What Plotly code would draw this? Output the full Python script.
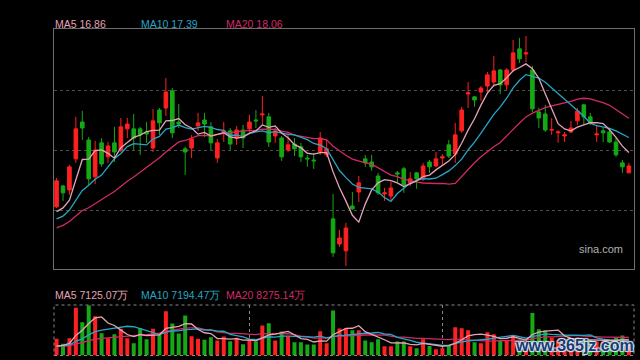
import plotly.graph_objects as go

# ---------------- data ----------------
days = list(range(90))

open_ = [14.96, 15.69, 15.55, 16.64, 17.93, 17.30, 16.01, 17.20, 16.71, 17.20,
         16.95, 17.69, 17.69, 17.69, 17.58, 17.02, 18.35, 18.42, 19.02, 17.93,
         16.99, 17.02, 17.79, 18.00, 17.76, 16.67, 17.55, 17.62, 17.37, 17.65,
         17.69, 18.00, 18.18, 18.11, 17.44, 17.37, 16.95, 17.16, 17.06, 16.67,
         16.60, 16.88, 16.78, 14.54, 13.66, 13.42, 14.99, 15.48, 16.64, 16.53,
         16.04, 15.41, 15.34, 16.15, 16.29, 15.80, 16.15, 15.94, 16.53, 16.39,
         16.67, 17.13, 16.81, 17.62, 18.91, 18.81, 18.98, 19.19, 19.33, 19.75,
         19.23, 19.75, 20.49, 20.31, 19.75, 18.28, 18.21, 17.65, 17.55, 17.44,
         17.58, 17.97, 18.53, 18.11, 17.48, 17.62, 17.58, 17.23, 16.50, 16.15]

high = [15.97, 15.73, 16.43, 18.11, 18.32, 17.41, 17.27, 17.37, 17.23, 17.76,
        18.07, 18.07, 18.21, 17.76, 17.93, 18.39, 18.42, 19.47, 19.12, 18.56,
        17.06, 17.48, 18.25, 18.25, 17.93, 17.34, 17.93, 17.72, 17.79, 17.83,
        18.18, 18.35, 18.84, 18.25, 17.72, 17.44, 17.55, 17.37, 17.20, 16.78,
        16.85, 17.58, 17.30, 15.41, 14.15, 14.40, 15.48, 16.04, 16.78, 16.78,
        16.15, 15.62, 15.83, 16.22, 16.36, 16.18, 16.18, 16.50, 16.60, 16.88,
        16.81, 17.30, 17.90, 18.46, 19.33, 18.84, 19.19, 19.68, 20.24, 19.79,
        19.82, 20.80, 20.87, 20.94, 19.89, 18.42, 18.53, 18.07, 17.65, 17.58,
        17.97, 18.42, 18.56, 18.25, 17.83, 17.72, 17.72, 17.41, 16.60, 16.50]

low = [14.92, 15.17, 15.38, 16.50, 17.30, 15.73, 15.76, 16.36, 16.50, 16.53,
       16.88, 17.37, 16.95, 16.78, 17.20, 16.88, 17.48, 18.14, 17.37, 17.72,
       16.08, 16.67, 17.62, 17.41, 16.95, 16.50, 17.23, 16.95, 17.13, 17.02,
       17.58, 17.72, 17.83, 17.06, 17.20, 16.57, 16.88, 16.74, 16.53, 16.36,
       16.29, 16.78, 16.71, 13.21, 13.56, 12.89, 14.85, 15.13, 16.36, 16.22,
       15.38, 15.17, 15.20, 15.83, 15.45, 15.69, 15.59, 15.87, 16.15, 16.36,
       16.43, 16.67, 16.50, 17.55, 18.42, 18.46, 18.67, 18.98, 19.16, 18.91,
       19.05, 19.68, 20.00, 20.03, 18.28, 17.72, 17.58, 17.48, 17.20, 17.23,
       17.55, 17.83, 17.83, 17.83, 17.23, 17.23, 17.20, 16.71, 16.15, 16.15]

close = [15.87, 15.45, 16.36, 17.69, 17.72, 15.94, 16.95, 16.46, 17.09, 16.88,
         17.76, 17.86, 17.37, 17.48, 17.51, 17.97, 17.90, 18.98, 17.55, 17.86,
         16.88, 17.34, 17.90, 17.86, 17.20, 17.20, 17.62, 17.16, 17.65, 17.37,
         17.93, 17.97, 18.21, 17.23, 17.62, 16.71, 17.13, 16.99, 16.71, 16.64,
         16.57, 17.37, 16.99, 13.35, 13.87, 14.22, 14.89, 15.80, 16.50, 16.36,
         15.45, 15.45, 15.62, 16.11, 15.73, 15.94, 15.94, 16.39, 16.36, 16.64,
         16.71, 16.74, 17.48, 18.35, 18.95, 18.70, 19.12, 19.58, 19.72, 19.23,
         19.75, 20.35, 20.14, 20.35, 18.39, 18.07, 17.65, 17.66, 17.58, 17.48,
         17.72, 18.31, 18.11, 17.90, 17.51, 17.55, 17.23, 16.78, 16.36, 16.39]

# volume in 万 (10k shares)
volume = [7680, 5380, 7960, 21940, 15320, 23000, 18080, 10260, 7960, 9800,
          12280, 7960, 5660, 12560, 7500, 12280, 9660, 20380, 14720, 10120,
          18400, 8880, 7680, 7220, 8420, 6900, 8740, 6580, 8140, 5200,
          7130, 6440, 13800, 14860, 6900, 11040, 8740, 6120, 6120, 5060,
          5060, 11180, 5660, 20700, 12420, 12280, 11590, 11590, 6900, 6120,
          7450, 4230, 4230, 6440, 6440, 4230, 3310, 7450, 4370, 2850,
          3310, 4600, 13020, 12560, 11590, 6120, 5660, 10720, 9750, 6760,
          6808, 9062, 7360, 5520, 19550, 12098, 11540.1, 8280, 6900, 6440,
          6440, 8280, 7820, 7360, 6419.35, 5980, 6440, 8280, 9200, 5725.35]

# the 19 sessions before the first visible one (needed for moving averages)
prev_close = [13.6, 13.7, 13.8, 13.9, 14.0, 13.9, 14.0, 14.0, 14.1, 14.0,
              14.5, 14.3, 14.2, 14.3, 14.15,
              14.8, 15.0, 14.2, 14.1]
prev_volume = [3800, 4000, 3900, 3700, 4100, 3900, 4000, 3800, 3900, 4000,
               4500, 4400, 4600, 4300, 4510,
               3500, 3300, 3600, 3308]

month_marks = [30, 60]

# ---------------- helpers ----------------
def moving_avg(prev, vals, n):
    full = prev + vals
    off = len(prev)
    out = []
    for i in range(len(vals)):
        w = full[off + i - n + 1: off + i + 1]
        out.append(sum(w) / n)
    return out

ma5 = moving_avg(prev_close, close, 5)
ma10 = moving_avg(prev_close, close, 10)
ma20 = moving_avg(prev_close, close, 20)
vma5 = moving_avg(prev_volume, volume, 5)
vma10 = moving_avg(prev_volume, volume, 10)
vma20 = moving_avg(prev_volume, volume, 20)

RED = "#ff2020"
GREEN = "#15a915"
C5 = "#e6a3b6"
C10 = "#27a6c6"
C20 = "#d22a66"
FONT = "Liberation Sans, Arial, sans-serif"
W, H = 640, 360

fig = go.Figure()

fig.add_trace(go.Candlestick(
    x=days, open=open_, high=high, low=low, close=close,
    increasing=dict(line=dict(color=RED, width=1), fillcolor=RED),
    decreasing=dict(line=dict(color=GREEN, width=1), fillcolor=GREEN),
    whiskerwidth=0, hoverinfo="skip", xaxis="x", yaxis="y"))

for ser, col in [(ma20, C20), (ma10, C10), (ma5, C5)]:
    fig.add_trace(go.Scatter(x=days, y=ser, mode="lines",
                             line=dict(color=col, width=1.3),
                             hoverinfo="skip", xaxis="x", yaxis="y"))

vol_colors = [RED if c > o else GREEN for o, c in zip(open_, close)]
fig.add_trace(go.Bar(x=days, y=volume, marker=dict(color=vol_colors, line=dict(width=0)),
                     width=0.62, hoverinfo="skip", xaxis="x2", yaxis="y2"))
for ser, col in [(vma20, C20), (vma10, C10), (vma5, C5)]:
    fig.add_trace(go.Scatter(x=days, y=ser, mode="lines",
                             line=dict(color=col, width=1.3),
                             hoverinfo="skip", xaxis="x2", yaxis="y2"))

xdom = [54 / W, 634 / W]
xr = [-0.4, 89.8]

fig.update_layout(
    width=W, height=H,
    paper_bgcolor="black", plot_bgcolor="black",
    margin=dict(l=0, r=0, t=0, b=0),
    showlegend=False,
    boxgap=0.2,
    xaxis=dict(domain=xdom, range=xr, anchor="y", showgrid=False, showticklabels=False,
               ticks="", zeroline=False, showline=True, mirror=True,
               linecolor="#6e6e6e", linewidth=1, rangeslider=dict(visible=False)),
    yaxis=dict(domain=[1 - 269 / H, 1 - 29 / H], range=[12.785, 21.185],
               tickvals=[14.85, 16.95, 19.05], showticklabels=False, ticks="",
               showgrid=True, gridcolor="#4d4d4d", griddash="dot", gridwidth=1,
               zeroline=False, showline=True, mirror=True, linecolor="#6e6e6e", linewidth=1),
    xaxis2=dict(domain=xdom, range=xr, anchor="y2", showticklabels=False, ticks="",
                tickvals=month_marks, showgrid=True, gridcolor="#8a8a8a", griddash="dot",
                zeroline=False, showline=False),
    yaxis2=dict(domain=[1 - 355.5 / H, 1 - 305 / H], range=[0, 23230],
                showgrid=False, showticklabels=False, ticks="", zeroline=False, showline=False),
)

fig.add_shape(type="rect", xref="x2 domain", yref="y2 domain", x0=0, x1=1, y0=0, y1=1,
              line=dict(color="#8a8a8a", width=1, dash="dot"))

def label(txt, px, py, col, size=10.5, anchor="left", weight="normal", shadow="none"):
    fig.add_annotation(text=txt, x=px / W, y=1 - py / H, xref="paper", yref="paper",
                       xanchor=anchor, yanchor="middle", showarrow=False,
                       font=dict(family=FONT, size=size, color=col, weight=weight, shadow=shadow))

label(f"MA5 {ma5[-1]:.2f}", 53, 24, C5)
label(f"MA10 {ma10[-1]:.2f}", 139, 24, C10)
label(f"MA20 {ma20[-1]:.2f}", 224, 24, C20)
label(f"MA5 {vma5[-1]:.2f}万", 53, 295, C5)
label(f"MA10 {vma10[-1]:.2f}万", 139, 295, C10)
label(f"MA20 {vma20[-1]:.2f}万", 224, 295, C20)
label("sina.com", 625, 249, "#b0b0b0", size=11, anchor="right")

# watermark overlay seen on the reference
label("www.365jz.com", 574, 345, "#1c3a72", size=16, anchor="center", weight="bold",
      shadow="1px 1px 1px #dbe8f6, -1px -1px 1px #dbe8f6, 1px -1px 1px #dbe8f6, -1px 1px 1px #dbe8f6")

fig.write_html("out.html",
               config={"displayModeBar": False, "staticPlot": True},
               post_script="document.body.style.margin='0';document.body.style.overflow='hidden';"
                           "document.body.style.background='black';")
